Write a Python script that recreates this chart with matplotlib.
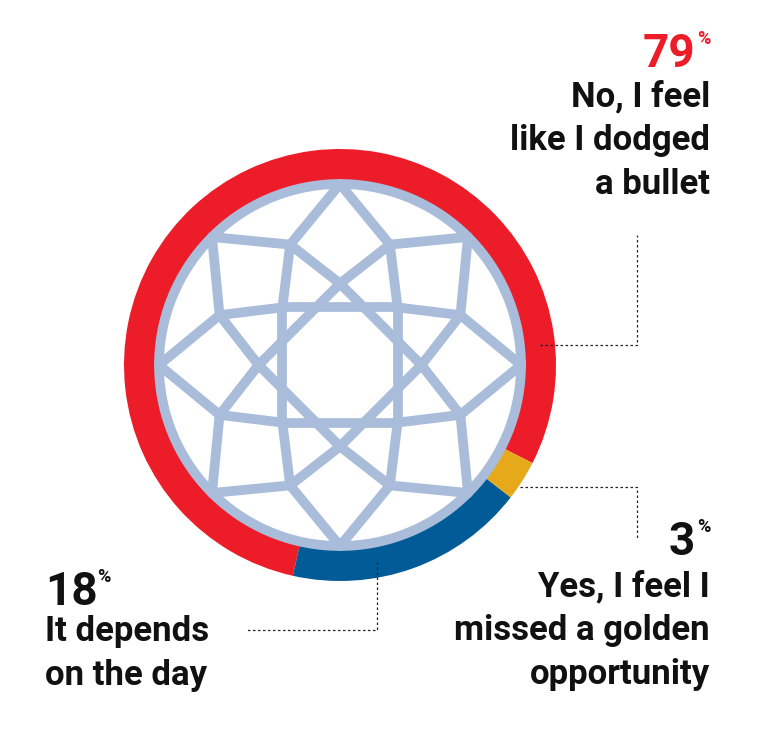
import matplotlib.pyplot as plt
import numpy as np

labels = ["No, I feel\nlike I dodged\na bullet", "It depends\non the day", "Yes, I feel I\nmissed a golden\nopportunity"]
values = [79, 18, 3]
colors = ["#ed1c29", "#005b96", "#e6a91a"]

W, H = 758, 730
fig = plt.figure(figsize=(W / 100, H / 100), dpi=100)
ax = fig.add_axes((0, 0, 1, 1))

cx, cy, R = 340, 730 - 365, 216
ax.pie(values, colors=colors, startangle=-27, counterclock=True, center=(cx, cy),
       radius=R, wedgeprops=dict(width=31, linewidth=0), frame=True)
ax.set_xlim(0, W)
ax.set_ylim(0, H)
ax.set_axis_off()
ax.set_aspect("equal")

# diamond drawing
lb = "#a9bcd9"
lw = 7
rc = 181
t = np.linspace(0, 2 * np.pi, 400)
ax.plot(cx + rc * np.cos(t), cy + rc * np.sin(t), color=lb, lw=lw)

def P(r, a):
    a = np.deg2rad(a)
    return cx + r * np.cos(a), cy + r * np.sin(a)

def seg(p, q):
    ax.plot([p[0], q[0]], [p[1], q[1]], color=lb, lw=lw, solid_capstyle="round")

for k in range(8):
    a = 90 + 45 * k
    A0, A1 = P(rc, a), P(rc, a + 45)
    B = P(0.72 * rc, a + 22.5)
    C0, C1 = P(0.45 * rc, a), P(0.45 * rc, a + 45)
    seg(A0, B)
    seg(B, A1)
    seg(B, C0)
    seg(B, C1)
    seg(C0, P(0.45 * rc, a + 90))

# leader lines
dash = dict(color="#222222", lw=0.9, ls=(0, (2, 2)))
ax.plot([540, 637, 637], [H - 345, H - 345, H - 235], **dash)
ax.plot([520, 637, 637], [H - 487, H - 487, H - 540], **dash)
ax.plot([377, 377, 245], [H - 562, H - 630, H - 630], **dash)

fam = "Roboto"
def pct(x, y, v, color, ha):
    if ha == "right":
        ax.text(x, y, "%", fontsize=13, fontweight="bold", color=color, ha="right", va="top", family=fam)
        ax.text(x - 15, y - 2, str(v), fontsize=33, fontweight="bold", color=color, ha="right", va="top", family=fam)
    else:
        ax.text(x, y - 2, str(v), fontsize=33, fontweight="bold", color=color, ha="left", va="top", family=fam)
        ax.text(x + 52, y, "%", fontsize=13, fontweight="bold", color=color, ha="left", va="top", family=fam)

def lab(x, y, s, ha):
    for i, line in enumerate(s.split("\n")):
        ax.text(x, y - 44 * i, line, fontsize=25, fontweight="bold", color="#111111",
                ha=ha, va="top", family=fam)

pct(710, H - 30, values[0], colors[0], "right")
lab(710, H - 80, labels[0], "right")
pct(710, H - 518, values[2], "#111111", "right")
lab(710, H - 570, labels[2], "right")
pct(45, H - 568, values[1], "#111111", "left")
lab(45, H - 615, labels[1], "left")

fig.savefig("out.png", dpi=100)
